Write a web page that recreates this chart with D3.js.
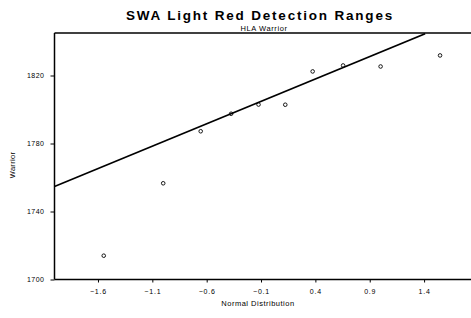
<!DOCTYPE html>
<html><head><meta charset="utf-8">
<script src="https://cdn.jsdelivr.net/npm/d3@7"></script>
<style>body{margin:0;background:#fff}svg{display:block}text{font-family:"Liberation Sans",Arial,sans-serif;fill:#000}</style>
</head><body>
<svg id="c" width="471" height="318"></svg>
<script>
const title = "SWA Light Red Detection Ranges";
const subtitle = "HLA Warrior";
const xLabel = "Normal Distribution";
const yLabel = "Warrior";
const normalScores = [-1.547, -1.000, -0.655, -0.375, -0.123, 0.123, 0.375, 0.655, 1.000, 1.547];
const warriorValues = [1714, 1756.6, 1787.2, 1797.5, 1802.9, 1802.8, 1822.4, 1825.9, 1825.3, 1831.8];
const fitLineX = [-2.0, 1.41];
const fitLineY = [1754.7, 1844.6];
const xTicks = [-1.6, -1.1, -0.6, -0.1, 0.4, 0.9, 1.4];
const yTicks = [1700, 1740, 1780, 1820];

const svg = d3.select("#c");
const L = 54.5, T = 33, B = 279.5, R = 471;
const x = d3.scaleLinear().domain([-2, 2]).range([L, L + 4 * 108.7]);
const y = d3.scaleLinear().domain([1700, 1845]).range([B, T]);

svg.append("defs").append("clipPath").attr("id", "pc")
  .append("rect").attr("x", L).attr("y", T).attr("width", R - L).attr("height", B - T);

// title
svg.append("text").attr("x", 260).attr("y", 20).attr("text-anchor", "middle")
  .attr("font-size", 13.5).attr("font-weight", "bold").attr("letter-spacing", 1.8).text(title);
svg.append("text").attr("x", 264).attr("y", 31).attr("text-anchor", "middle")
  .attr("font-size", 7.5).attr("letter-spacing", 0.6).text(subtitle);

// top border
svg.append("line").attr("x1", L).attr("x2", R).attr("y1", T).attr("y2", T)
  .attr("stroke", "#000").attr("stroke-width", 1.3);

// x axis
const xAxis = d3.axisBottom(x).tickValues(xTicks).tickSize(3).tickPadding(7)
  .tickFormat(d3.format(".1f"));
const gx = svg.append("g").attr("transform", `translate(0,${B})`).call(xAxis);
gx.select(".domain").remove();
gx.append("line").attr("x1", L).attr("x2", R).attr("stroke", "#000").attr("stroke-width", 1.3);
gx.selectAll(".tick line").attr("stroke", "#000");
gx.selectAll(".tick text").attr("font-size", 7).attr("letter-spacing", 0.8)
  .attr("font-family", "Liberation Sans, Arial, sans-serif").attr("fill", "#000");

// y axis
const yAxis = d3.axisLeft(y).tickValues(yTicks).tickSize(4).tickPadding(6)
  .tickFormat(d3.format("d"));
const gy = svg.append("g").attr("transform", `translate(${L},0)`).call(yAxis);
gy.select(".domain").remove();
gy.append("line").attr("y1", T).attr("y2", B).attr("stroke", "#000").attr("stroke-width", 1.5);
gy.selectAll(".tick line").attr("stroke", "#000");
gy.selectAll(".tick text").attr("font-size", 7).attr("letter-spacing", 0.5)
  .attr("font-family", "Liberation Sans, Arial, sans-serif").attr("fill", "#000");

// axis labels
svg.append("text").attr("x", 258).attr("y", 306).attr("text-anchor", "middle")
  .attr("font-size", 7.5).attr("letter-spacing", 0.5).text(xLabel);
svg.append("text").attr("transform", "translate(15,165) rotate(-90)").attr("text-anchor", "middle")
  .attr("font-size", 7.5).attr("letter-spacing", 0.3).text(yLabel);

// fit line
svg.append("line").attr("clip-path", "url(#pc)")
  .attr("x1", x(fitLineX[0])).attr("y1", y(fitLineY[0]))
  .attr("x2", x(fitLineX[1])).attr("y2", y(fitLineY[1]))
  .attr("stroke", "#000").attr("stroke-width", 1.6);

// points
svg.append("g").selectAll("circle").data(normalScores).join("circle")
  .attr("cx", d => x(d)).attr("cy", (d, i) => y(warriorValues[i])).attr("r", 1.8)
  .attr("fill", "none").attr("stroke", "#000").attr("stroke-width", 0.9);
</script>
</body></html>
